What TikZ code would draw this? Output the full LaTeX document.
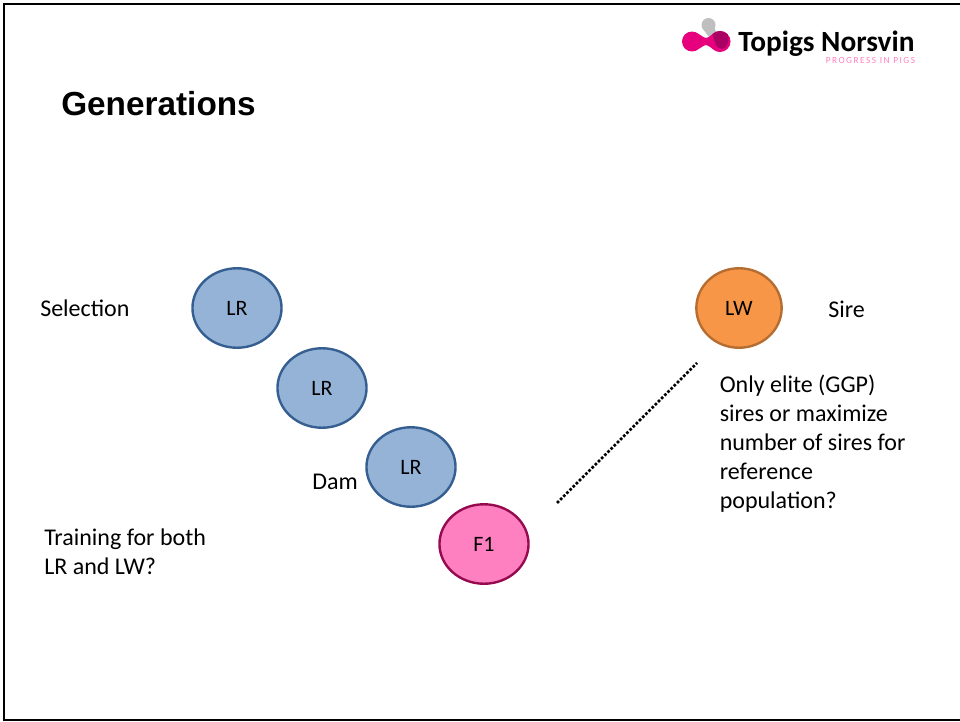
\documentclass[tikz,border=0pt]{standalone}
\usepackage{fontspec}
\setmainfont{Carlito}
\newfontfamily\titlefont{Liberation Sans}
\usetikzlibrary{shapes.geometric}
\definecolor{lrblue}{RGB}{149,179,215}
\definecolor{lredge}{RGB}{54,95,145}
\definecolor{lworange}{RGB}{247,150,70}
\definecolor{lwedge}{RGB}{182,109,49}
\definecolor{fpink}{RGB}{255,128,192}
\definecolor{fedge}{RGB}{150,10,80}
\definecolor{logopink}{RGB}{230,0,126}
\definecolor{logodark}{RGB}{170,0,100}
\tikzset{
 pig/.style={ellipse,draw,line width=1.8pt,minimum width=66.8pt,minimum height=59.6pt,inner sep=0pt,font=\fontsize{16.5}{20}\selectfont},
 lrpig/.style={pig,fill=lrblue,draw=lredge},
 label/.style={anchor=west,align=left,inner sep=0pt,font=\fontsize{18}{21.7}\selectfont}
}
\newcommand{\logoball}{(720,41.5) circle (10.5)}
\begin{document}
\begin{tikzpicture}[x=0.75pt,y=-0.75pt]
 \useasboundingbox (0,0) rectangle (960,721);
 \draw[line width=1.8pt] (4,721) -- (4,4) -- (960,4);
 \draw[line width=1pt] (4,720) -- (960,720);

 % logo
 \fill[black!25] (708.5,25) circle (7);
 \fill[black!25] (702.5,28) -- (714.5,28) -- (718,36) -- (708,36) -- cycle;
 \fill[logopink] (692,41.5) circle (10);
 \fill[logopink] \logoball;
 \fill[logopink] (692,32) .. controls (700,33) and (703,38) .. (706,38) .. controls (709,38) and (712,33) .. (720,31) -- (720,52) .. controls (712,50) and (709,45) .. (706,45) .. controls (703,45) and (700,50) .. (692,51) -- cycle;
 \begin{scope}
  \clip \logoball;
  \fill[logodark] (712,31) -- (727,31) .. controls (730,40) and (728,48) .. (722,49) .. controls (716,49) and (714,40) .. (712,31) -- cycle;
 \end{scope}
 \begin{scope}
  \clip (730,20) rectangle (916,70);
  \node[anchor=west,inner sep=0pt,font=\bfseries\fontsize{22}{24}\selectfont] (brand) at (738,43.5) {Topigs Norsvin};
  \node[anchor=west,inner sep=0pt,text=fpink,font=\fontsize{7}{8}\selectfont] (motto) at (825.5,61) {\addfontfeature{LetterSpace=16}PROGRESS IN PIGS};
 \end{scope}

 \node[anchor=west,inner sep=0pt,font=\titlefont\bfseries\fontsize{25}{30}\selectfont] (title) at (61,104) {Generations};

 \node[lrpig] (lr1) at (237,308) {LR};
 \node[lrpig] (lr2) at (322,388) {LR};
 \node[lrpig] (lr3) at (411,467) {LR};
 \node[pig,fill=fpink,draw=fedge] (f1) at (484,544) {F1};
 \node[pig,fill=lworange,draw=lwedge,minimum width=64pt] (lw) at (739,308) {LW};

 \coordinate (dotsa) at (557,503);
 \coordinate (dotsb) at (697,363);
 \draw[line width=2pt,dash pattern=on 2pt off 1.35pt] (dotsa) -- (dotsb);

 \node[label] (selection) at (40,308) {Selection};
 \node[label] (sire) at (828,309) {Sire};
 \node[label] (dam) at (312,482) {Dam};
 \node[label] (training) at (44,552) {Training for both\\LR and LW?};
 \node[label] (elite) at (719.5,444) {Only elite (GGP)\\sires or maximize\\number of sires for\\reference\\population?};
\end{tikzpicture}
\end{document}
